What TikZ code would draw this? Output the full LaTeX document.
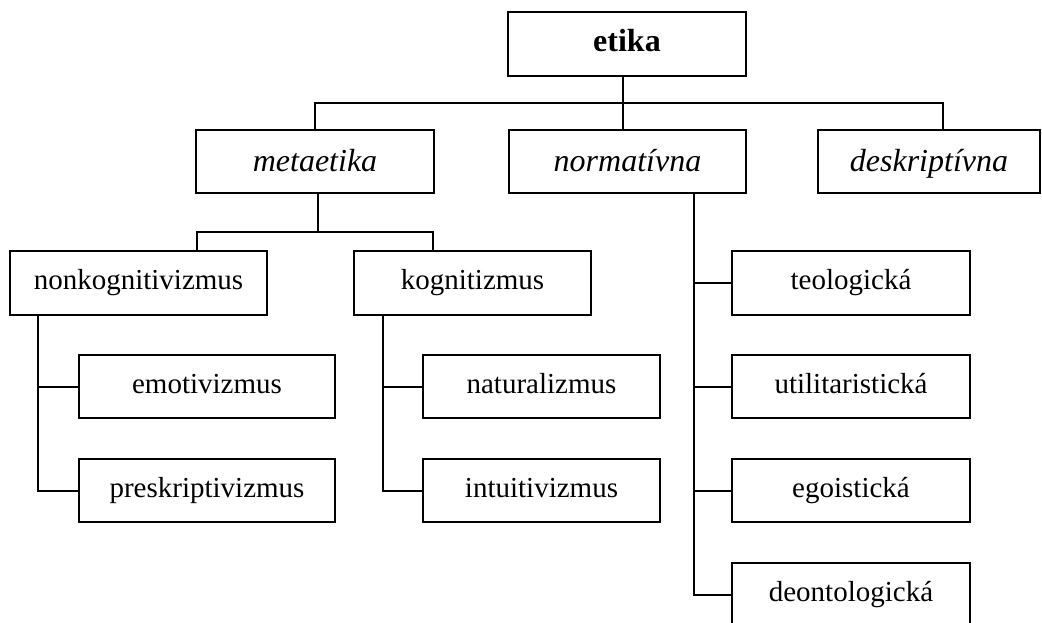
\documentclass[tikz,border=0pt]{standalone}
\usepackage{fontspec}
\setmainfont{Liberation Serif}
\begin{document}
\begin{tikzpicture}[x=0.5pt,y=-0.5pt,line width=1pt,
  box/.style={draw,rectangle,inner sep=0pt,text height=9pt,text depth=2.3pt,font=\fontsize{14.5}{17}\selectfont},
  hbox/.style={box,text height=12.5pt,text depth=2.1pt,font=\fontsize{16}{19}\selectfont\itshape}]
\useasboundingbox (0,0) rectangle (1042,622);
\clip (0,0) rectangle (1042,622);
% top
\node[box,text height=9.5pt,text depth=2.1pt,minimum width=119pt,minimum height=32pt,font=\fontsize{16}{19}\selectfont\bfseries] (etika) at (627,44) {etika};
\node[hbox,minimum width=119pt,minimum height=31.5pt] (meta) at (315,161.5) {metaetika};
\node[hbox,minimum width=118.5pt,minimum height=31.5pt] (norm) at (627.5,161.5) {normatívna};
\node[hbox,minimum width=111pt,minimum height=31.5pt] (desk) at (929,161.5) {deskriptívna};
% metaetika children
\node[box,minimum width=128.5pt,minimum height=32pt] (nonkog) at (138.5,283) {nonkognitivizmus};
\node[box,minimum width=118.5pt,minimum height=32pt] (kog) at (472.5,283) {kognitizmus};
\node[box,minimum width=128pt,minimum height=31.5pt] (emo) at (207,386.5) {emotivizmus};
\node[box,minimum width=128pt,minimum height=31.5pt] (pres) at (207,490.5) {preskriptivizmus};
\node[box,minimum width=118.5pt,minimum height=31.5pt] (nat) at (541.5,386.5) {naturalizmus};
\node[box,minimum width=118.5pt,minimum height=31.5pt] (int) at (541.5,490.5) {intuitivizmus};
% normativna children
\node[box,minimum width=119pt,minimum height=32pt] (teo) at (851,283) {teologická};
\node[box,minimum width=119pt,minimum height=31.5pt] (uti) at (851,386.5) {utilitaristická};
\node[box,minimum width=119pt,minimum height=31.5pt] (ego) at (851,490.5) {egoistická};
\node[box,minimum width=119pt,minimum height=32pt] (deo) at (851,595) {deontologická};
% coordinates
\coordinate (j0) at (623,103);
\coordinate (dtop) at (943,130);
\coordinate (j1) at (318,232);
\coordinate (n1) at (197,251);
\coordinate (k1) at (433,251);
\coordinate (xn) at (38,0);
\coordinate (xk) at (383,0);
\coordinate (xo) at (694,0);
% connectors
\draw (etika.south -| j0) -- (j0);
\draw (meta.north) |- (j0) -| (dtop);
\draw (j0) -- (norm.north -| j0);
\draw (meta.south -| j1) -- (j1);
\draw (n1) |- (j1) -| (k1);
\draw (nonkog.south -| xn) |- (pres.west);
\draw (emo.west) -- (emo.west -| xn);
\draw (kog.south -| xk) |- (int.west);
\draw (nat.west) -- (nat.west -| xk);
\draw (norm.south -| xo) |- (deo.west);
\draw (teo.west) -- (teo.west -| xo);
\draw (uti.west) -- (uti.west -| xo);
\draw (ego.west) -- (ego.west -| xo);
\end{tikzpicture}
\end{document}
